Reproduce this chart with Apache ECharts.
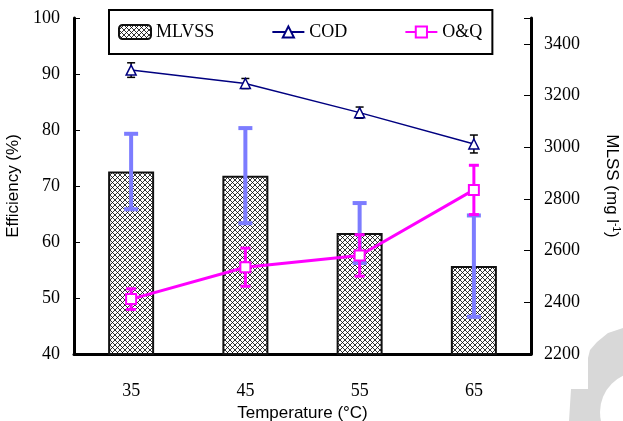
<!DOCTYPE html>
<html>
<head>
<meta charset="utf-8">
<script src="https://cdn.jsdelivr.net/npm/echarts@6/dist/echarts.min.js"></script>
<style>
  html, body { margin: 0; padding: 0; background: #fff; }
  #main { width: 623px; height: 421px; }
</style>
</head>
<body>
<div id="main"></div>
<script>
var categories = ['35', '45', '55', '65'];
var mlvss = [2906, 2890, 2668, 2540];
var mlvssErr = [146, 184, 116, 196];
var cod = [90.7, 88.3, 83.1, 77.5];
var codErr = [1.3, 0.9, 1.0, 1.6];
var oq = [49.8, 55.5, 57.6, 69.3];
var oqErr = [1.85, 3.4, 3.7, 4.4];
var leftTicks = [40, 100, 10];
var rightTicks = [2200, 3500, 200];

var serif = '"Liberation Serif", "DejaVu Serif", serif';
var sans = '"Liberation Sans", Arial, sans-serif';

// crosshatch fill for the bars
function hatch() {
    var c = document.createElement('canvas');
    c.width = 5; c.height = 5;
    var g = c.getContext('2d');
    g.fillStyle = '#fff';
    g.fillRect(0, 0, 5, 5);
    g.strokeStyle = '#000';
    g.lineWidth = 0.8;
    g.beginPath();
    g.moveTo(0, 0); g.lineTo(5, 5);
    g.moveTo(5, 0); g.lineTo(0, 5);
    g.stroke();
    return c;
}

function errData(vals, errs) {
    var out = [];
    for (var i = 0; i < vals.length; i++) {
        out.push([i, vals[i] - errs[i], vals[i] + errs[i]]);
    }
    return out;
}

function errBar(color, width, cap) {
    return function(params, api) {
        var lo = api.coord([api.value(0), api.value(1)]);
        var hi = api.coord([api.value(0), api.value(2)]);
        var st = { stroke: color, lineWidth: width };
        return {
            type: 'group',
            children: [
                { type: 'line', shape: { x1: lo[0], y1: lo[1], x2: hi[0], y2: hi[1] }, style: st },
                { type: 'line', shape: { x1: lo[0] - cap, y1: lo[1], x2: lo[0] + cap, y2: lo[1] }, style: st },
                { type: 'line', shape: { x1: hi[0] - cap, y1: hi[1], x2: hi[0] + cap, y2: hi[1] }, style: st }
            ]
        };
    };
}

var chart = echarts.init(document.getElementById('main'));
chart.setOption({
    animation: false,
    backgroundColor: '#fff',
    grid: { left: 74, right: 92, top: 18, bottom: 67, containLabel: false, outerBoundsMode: 'none' },
    graphic: [
        { type: 'polygon', z: -10, shape: { points: [[623, 328], [608, 333], [597, 342], [590, 350], [588, 358], [588, 389], [571, 389], [569, 421], [623, 421]] }, style: { fill: '#d8d8d8' } },
        { type: 'circle', z: -9, shape: { cx: 640, cy: 412, r: 40 }, style: { fill: '#fff' } }
    ],
    legend: {
        left: 109, top: 10,
        padding: [13, 10, 13, 9],
        itemGap: 57, itemWidth: 32, itemHeight: 14,
        borderColor: '#000', borderWidth: 2,
        textStyle: { fontFamily: serif, fontSize: 18, color: '#000' },
        data: ['MLVSS', 'COD', 'O&Q']
    },
    xAxis: {
        type: 'category',
        data: categories,
        name: 'Temperature (°C)',
        nameLocation: 'middle', nameGap: 50,
        nameTextStyle: { fontFamily: sans, fontSize: 17, color: '#000' },
        axisLine: { lineStyle: { color: '#000', width: 3 } },
        axisTick: { inside: true, length: 5, lineStyle: { color: '#000' } },
        axisLabel: { margin: 28, fontFamily: serif, fontSize: 18, color: '#000' }
    },
    yAxis: [{
        type: 'value',
        min: leftTicks[0], max: leftTicks[1], interval: leftTicks[2],
        name: 'Efficiency (%)',
        nameLocation: 'middle', nameGap: 46,
        nameTextStyle: { fontFamily: sans, fontSize: 17, color: '#000' },
        splitLine: { show: false },
        axisLine: { show: true, lineStyle: { color: '#000', width: 3 } },
        axisTick: { show: true, inside: true, length: 6, lineStyle: { color: '#000' } },
        axisLabel: { margin: 14, fontFamily: serif, fontSize: 18, color: '#000' }
    }, {
        type: 'value',
        position: 'right',
        min: rightTicks[0], max: rightTicks[1], interval: rightTicks[2],
        name: 'MLSS (mg l{sup|-1})',
        nameLocation: 'middle', nameGap: 72, nameRotate: -90,
        nameTextStyle: {
            fontFamily: sans, fontSize: 17, color: '#000',
            rich: { sup: { fontFamily: sans, fontSize: 10, verticalAlign: 'top', padding: [0, 0, 8, 0] } }
        },
        splitLine: { show: false },
        axisLine: { show: true, lineStyle: { color: '#000', width: 3 } },
        axisTick: { show: true, inside: true, length: 7, lineStyle: { color: '#000' } },
        axisLabel: {
            margin: 13, fontFamily: serif, fontSize: 18, color: '#000',
            formatter: function(v) { return v > 3400 ? '' : v; }
        }
    }],
    series: [{
        name: 'MLVSS',
        type: 'bar',
        yAxisIndex: 1,
        barWidth: 46,
        data: mlvss,
        itemStyle: { color: { image: hatch(), repeat: 'repeat' }, borderColor: '#111', borderWidth: 2 },
        z: 2
    }, {
        name: 'MLVSS err',
        type: 'custom',
        yAxisIndex: 1,
        renderItem: errBar('#7c7cff', 4, 7),
        data: errData(mlvss, mlvssErr),
        z: 3
    }, {
        name: 'COD',
        type: 'line',
        data: cod,
        symbol: 'triangle', symbolSize: 10,
        lineStyle: { color: '#000080', width: 1.5 },
        itemStyle: { color: '#fff', borderColor: '#000080', borderWidth: 1.5 },
        z: 5
    }, {
        name: 'COD err',
        type: 'custom',
        renderItem: errBar('#000', 1.5, 4),
        data: errData(cod, codErr),
        z: 4
    }, {
        name: 'O&Q err',
        type: 'custom',
        renderItem: errBar('#ff00ff', 3, 5),
        data: errData(oq, oqErr),
        z: 6
    }, {
        name: 'O&Q',
        type: 'line',
        data: oq,
        symbol: 'rect', symbolSize: 10,
        lineStyle: { color: '#ff00ff', width: 3 },
        itemStyle: { color: '#fff', borderColor: '#ff00ff', borderWidth: 2 },
        z: 7
    }]
});
</script>
</body>
</html>
